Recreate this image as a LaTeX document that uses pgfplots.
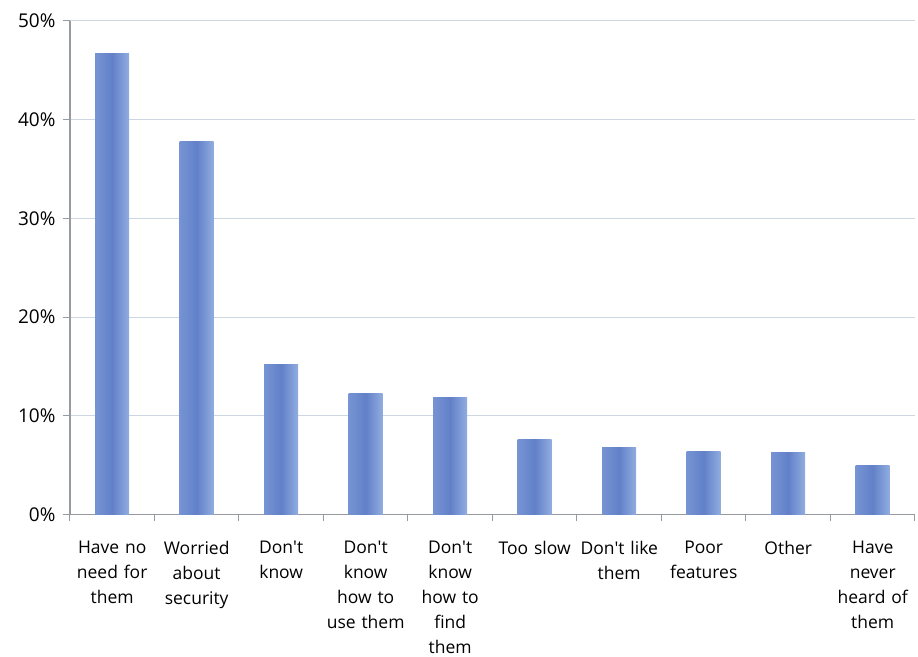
\documentclass[border=0pt]{standalone}
\usepackage{pgfplots}
\pgfplotsset{compat=1.18}
\usepackage{fontspec}
\setmainfont{Open Sans}
\definecolor{barmid}{RGB}{98,128,200}
\definecolor{barleft}{RGB}{118,148,211}
\definecolor{barright}{RGB}{145,173,225}
\definecolor{gridc}{RGB}{205,215,225}
\definecolor{axc}{RGB}{150,155,160}
\newcommand{\ap}{\textquotesingle}
\begin{document}
\begin{tikzpicture}
\begin{axis}[
  scale only axis,
  width=846pt, height=494pt,
  ymin=0, ymax=50,
  xmin=-0.5, xmax=9.5,
  ytick={0,10,...,50},
  yticklabel={\pgfmathprintnumber{\tick}\%},
  /pgf/number format/assume math mode=true,
  xtick={0,...,9},
  xticklabels={{Have no\\need for\\them},{Worried\\about\\security},{Don\ap t\\know},{Don\ap t\\know\\how to\\use them},{Don\ap t\\know\\how to\\find\\them},{Too slow},{Don\ap t like\\them},{Poor\\features},{Other},{Have\\never\\heard of\\them}},
  x tick label style={align=center, text width=84pt, font=\fontsize{17.5}{25}\selectfont, anchor=north, yshift=-16pt},
  y tick label style={font=\fontsize{19}{22}\selectfont, xshift=-4pt},
  major x tick style={draw=none},
  minor xtick={-0.5,0.5,...,9.5},
  minor tick length=7pt,
  major tick length=7pt,
  tick align=outside,
  tick pos=left,
  tick style={axc, line width=1pt},
  ymajorgrids,
  grid style={gridc, line width=1pt},
  axis x line*=bottom,
  axis y line*=left,
  axis line style={axc, line width=1.2pt},
  ybar, bar width=34pt, bar shift=0pt,
  mybar/.style={draw=none, left color=barleft, right color=barright, middle color=barmid},
]
\addplot[mybar] coordinates {(0,46.7)};
\addplot[mybar] coordinates {(1,37.75)};
\addplot[mybar] coordinates {(2,15.2)};
\addplot[mybar] coordinates {(3,12.25)};
\addplot[mybar] coordinates {(4,11.85)};
\addplot[mybar] coordinates {(5,7.6)};
\addplot[mybar] coordinates {(6,6.8)};
\addplot[mybar] coordinates {(7,6.4)};
\addplot[mybar] coordinates {(8,6.3)};
\addplot[mybar] coordinates {(9,5.0)};
\end{axis}
\path (current axis.south west) ++(-70pt,-142pt) rectangle ++(918pt,657pt);
\end{tikzpicture}
\end{document}
